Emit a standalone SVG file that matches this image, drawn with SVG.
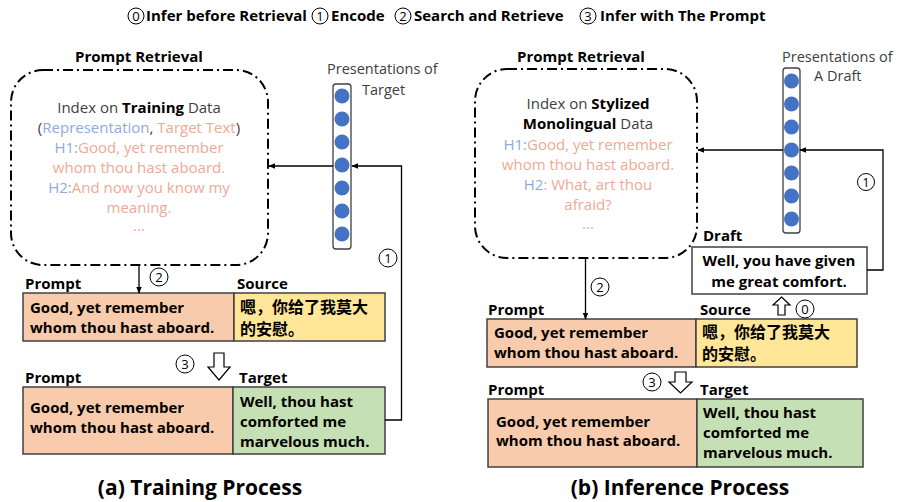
<svg xmlns="http://www.w3.org/2000/svg" width="901" height="502" viewBox="0 0 901 502">
<defs>
<marker id="ah" viewBox="0 0 10 10" refX="9" refY="5" markerWidth="7" markerHeight="7" markerUnits="userSpaceOnUse" orient="auto">
<path d="M0,1 L10,5 L0,9 Z" fill="#000"/>
</marker>
<style>
text{font-family:"Open Sans","Noto Sans CJK SC",sans-serif;}
.t{font-size:15px;font-weight:bold;fill:#000;}
.lbl{font-size:15px;font-weight:bold;fill:#000;}
.bx{font-size:15px;font-weight:bold;fill:#000;}
.zh{font-family:"Noto Sans CJK SC",sans-serif;font-size:16px;font-weight:bold;fill:#000;}
.idx{font-size:15px;fill:#404040;text-anchor:middle;}
.b{font-weight:bold;fill:#000;}
.blue{fill:#8FAADC;}
.pink{fill:#EFA996;}
.cap{font-size:21px;font-weight:bold;fill:#000;text-anchor:middle;}
.pres{font-size:14.5px;fill:#404040;}
.dash{fill:none;stroke:#000;stroke-width:2;stroke-dasharray:10 4 2 4;}
.vec{fill:#fff;stroke:#404040;stroke-width:1.3;}
.dot{fill:#4472C4;}
.pr{fill:#F8CBAD;stroke:#404040;stroke-width:1.5;}
.so{fill:#FFE699;stroke:#404040;stroke-width:1.5;}
.tg{fill:#C5E0B4;stroke:#404040;stroke-width:1.5;}
.cn{fill:none;stroke:#000;stroke-width:1.3;}
.num{fill:#fff;stroke:#000;stroke-width:1;}
.nt{font-size:13px;fill:#000;text-anchor:middle;}
.hol{fill:#fff;stroke:#000;stroke-width:1.2;}
</style>
</defs>

<!-- Title legend -->
<g id="legend">
<circle class="num" cx="136" cy="16" r="8"/><text class="nt" x="136" y="21">0</text>
<text class="t" x="146" y="21">Infer before Retrieval</text>
<circle class="num" cx="320" cy="16" r="8"/><text class="nt" x="320" y="21">1</text>
<text class="t" x="331" y="21">Encode</text>
<circle class="num" cx="403" cy="16" r="8"/><text class="nt" x="403" y="21">2</text>
<text class="t" x="414" y="21">Search and Retrieve</text>
<circle class="num" cx="588" cy="16" r="8"/><text class="nt" x="588" y="21">3</text>
<text class="t" x="600" y="21">Infer with The Prompt</text>
</g>

<!-- ===== Left panel ===== -->
<g id="retrieval-a">
<text class="lbl" x="139" y="62" text-anchor="middle">Prompt Retrieval</text>
<rect class="dash" x="11" y="70" width="257" height="195" rx="32"/>
<text class="idx" x="139" y="113">Index on <tspan class="b">Training</tspan> Data</text>
<text class="idx" x="139" y="133">(<tspan class="blue">Representation</tspan>, <tspan class="pink">Target Text</tspan>)</text>
<text class="idx" x="139" y="153"><tspan class="blue">H1:</tspan><tspan class="pink">Good, yet remember</tspan></text>
<text class="idx pink" x="139" y="173">whom thou hast aboard.</text>
<text class="idx" x="139" y="193"><tspan class="blue">H2:</tspan><tspan class="pink">And now you know my</tspan></text>
<text class="idx pink" x="139" y="213">meaning.</text>
<text class="idx pink" x="139" y="231">...</text>
</g>

<g id="vector-a">
<text class="pres" x="327" y="74">Presentations of</text>
<text class="pres" x="362" y="95">Target</text>
<rect class="vec" x="333" y="84" width="18" height="165" rx="3"/>
<circle class="dot" cx="342" cy="96" r="7.5"/>
<circle class="dot" cx="342" cy="119" r="7.5"/>
<circle class="dot" cx="342" cy="142" r="7.5"/>
<circle class="dot" cx="342" cy="165" r="7.5"/>
<circle class="dot" cx="342" cy="188" r="7.5"/>
<circle class="dot" cx="342" cy="211" r="7.5"/>
<circle class="dot" cx="342" cy="234" r="7.5"/>
</g>

<g id="row1-a">
<text class="lbl" x="25" y="289">Prompt</text>
<text class="lbl" x="237" y="289">Source</text>
<rect class="pr" x="23" y="293" width="211" height="48"/>
<rect class="so" x="234" y="293" width="151" height="48"/>
<text class="bx" x="30" y="313">Good, yet remember</text>
<text class="bx" x="30" y="333">whom thou hast aboard.</text>
<text class="zh" x="240" y="313">嗯，你给了我莫大</text>
<text class="zh" x="240" y="335">的安慰。</text>
</g>

<g id="row2-a">
<text class="lbl" x="25" y="383">Prompt</text>
<text class="lbl" x="239" y="383">Target</text>
<rect class="pr" x="23" y="387" width="210" height="67"/>
<rect class="tg" x="233" y="387" width="152" height="67"/>
<text class="bx" x="30" y="413">Good, yet remember</text>
<text class="bx" x="30" y="433">whom thou hast aboard.</text>
<text class="bx" x="240" y="407">Well, thou hast</text>
<text class="bx" x="240" y="427">comforted me</text>
<text class="bx" x="240" y="447">marvelous much.</text>
</g>

<text class="cap" x="200" y="495">(a) Training Process</text>

<!-- ===== Right panel ===== -->
<g id="retrieval-b">
<text class="lbl" x="581" y="62" text-anchor="middle">Prompt Retrieval</text>
<rect class="dash" x="475" y="69" width="222" height="189" rx="32"/>
<text class="idx" x="588" y="109">Index on <tspan class="b">Stylized</tspan></text>
<text class="idx" x="588" y="129"><tspan class="b">Monolingual</tspan> Data</text>
<text class="idx" x="588" y="150"><tspan class="blue">H1:</tspan><tspan class="pink">Good, yet remember</tspan></text>
<text class="idx pink" x="588" y="170">whom thou hast aboard.</text>
<text class="idx" x="588" y="190"><tspan class="blue">H2</tspan><tspan class="pink">: What, art thou</tspan></text>
<text class="idx pink" x="588" y="210">afraid?</text>
<text class="idx pink" x="588" y="229">...</text>
</g>

<g id="vector-b">
<text class="pres" x="782" y="62">Presentations of</text>
<text class="pres" x="814" y="81">A Draft</text>
<rect class="vec" x="783" y="68" width="17" height="165" rx="3"/>
<circle class="dot" cx="791.5" cy="81" r="7.5"/>
<circle class="dot" cx="791.5" cy="104" r="7.5"/>
<circle class="dot" cx="791.5" cy="127" r="7.5"/>
<circle class="dot" cx="791.5" cy="150" r="7.5"/>
<circle class="dot" cx="791.5" cy="173" r="7.5"/>
<circle class="dot" cx="791.5" cy="196" r="7.5"/>
<circle class="dot" cx="791.5" cy="219" r="7.5"/>
</g>

<g id="draft">
<text class="lbl" x="703" y="241">Draft</text>
<rect x="692" y="247" width="175" height="47" fill="#fff" stroke="#404040" stroke-width="1.5"/>
<text class="bx" x="779" y="266" text-anchor="middle">Well, you have given</text>
<text class="bx" x="779" y="287" text-anchor="middle">me great comfort.</text>
</g>

<g id="row1-b">
<text class="lbl" x="488" y="315">Prompt</text>
<text class="lbl" x="700" y="315">Source</text>
<rect class="pr" x="487" y="319" width="209" height="48"/>
<rect class="so" x="696" y="319" width="161" height="48"/>
<text class="bx" x="494" y="338">Good, yet remember</text>
<text class="bx" x="494" y="358">whom thou hast aboard.</text>
<text class="zh" x="702" y="338">嗯，你给了我莫大</text>
<text class="zh" x="702" y="360">的安慰。</text>
</g>

<g id="row2-b">
<text class="lbl" x="488" y="395">Prompt</text>
<text class="lbl" x="700" y="395">Target</text>
<rect class="pr" x="488" y="399" width="209" height="68"/>
<rect class="tg" x="697" y="399" width="166" height="68"/>
<text class="bx" x="496" y="427">Good, yet remember</text>
<text class="bx" x="496" y="446">whom thou hast aboard.</text>
<text class="bx" x="703" y="418">Well, thou hast</text>
<text class="bx" x="703" y="438">comforted me</text>
<text class="bx" x="703" y="458">marvelous much.</text>
</g>

<text class="cap" x="680" y="495">(b) Inference Process</text>

<!-- ===== Connectors ===== -->
<g id="connectors">
<!-- left -->
<line class="cn" x1="333" y1="166" x2="269" y2="166" marker-end="url(#ah)"/>
<polyline class="cn" points="385,420 401.5,420 401.5,166 352,166" marker-end="url(#ah)"/>
<line class="cn" x1="139" y1="265" x2="139" y2="293" marker-end="url(#ah)"/>
<polygon class="hol" points="214,353 224,353 224,367 230,367 219,380 208,367 214,367"/>
<!-- right -->
<line class="cn" x1="783" y1="150" x2="698" y2="150" marker-end="url(#ah)"/>
<polyline class="cn" points="867,270 883,270 883,150 800,150" marker-end="url(#ah)"/>
<line class="cn" x1="585.5" y1="258" x2="585.5" y2="319" marker-end="url(#ah)"/>
<polygon class="hol" points="675,372 686,372 686,382 692,382 680.5,393 669,382 675,382"/>
<polygon class="hol" points="781.5,297 790,305 785,305 785,315 778,315 778,305 773,305"/>
<!-- step numbers -->
<circle class="num" cx="388" cy="258" r="9"/><text class="nt" x="388" y="263">1</text>
<circle class="num" cx="159" cy="277" r="9"/><text class="nt" x="159" y="282">2</text>
<circle class="num" cx="185" cy="364" r="9"/><text class="nt" x="185" y="369">3</text>
<circle class="num" cx="866" cy="182" r="8.5"/><text class="nt" x="866" y="187">1</text>
<circle class="num" cx="600" cy="287" r="9"/><text class="nt" x="600" y="292">2</text>
<circle class="num" cx="652" cy="382" r="9"/><text class="nt" x="652" y="387">3</text>
<circle class="num" cx="805" cy="309" r="9"/><text class="nt" x="805" y="314">0</text>
</g>
</svg>
